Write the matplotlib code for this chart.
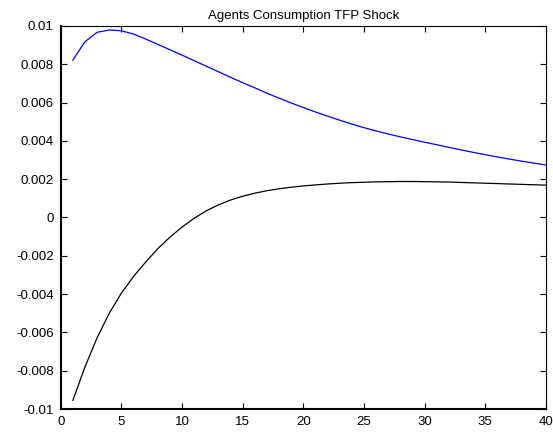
import numpy as np
import matplotlib
matplotlib.use('Agg')
from matplotlib import pyplot as plt
from matplotlib.ticker import FuncFormatter

periods = np.arange(1, 41)

# blue: response of agents' consumption (series 1)
cons_a = [0.00822, 0.00918, 0.00967, 0.00979, 0.00975, 0.00958, 0.00932, 0.00904,
          0.00876, 0.00848, 0.00819, 0.00790, 0.00761, 0.00732, 0.00704, 0.00677,
          0.00649, 0.00623, 0.00598, 0.00574, 0.00551, 0.00529, 0.00508, 0.00488,
          0.00469, 0.00452, 0.00436, 0.00421, 0.00407, 0.00393, 0.00380, 0.00366,
          0.00353, 0.00340, 0.00328, 0.00316, 0.00305, 0.00294, 0.00284, 0.00274]

# black: response of agents' consumption (series 2)
cons_b = [-0.00955, -0.00780, -0.00628, -0.00500, -0.00395, -0.00308, -0.00233, -0.00163,
          -0.00103, -0.00050, -0.00004, 0.00035, 0.00066, 0.00091, 0.00111, 0.00127,
          0.00140, 0.00150, 0.00158, 0.00165, 0.00170, 0.00175, 0.00179, 0.00182,
          0.00184, 0.00186, 0.00187, 0.00188, 0.00188, 0.00187, 0.00186, 0.00185,
          0.00183, 0.00181, 0.00179, 0.00177, 0.00175, 0.00173, 0.00171, 0.00169]

plt.rcParams['font.family'] = ['Liberation Sans', 'DejaVu Sans']

fig = plt.figure(figsize=(5.53, 4.34), dpi=100)
ax = fig.add_axes([0.1098, 0.0576, 0.8775, 0.8825])

ax.plot(periods, cons_a, color='blue', lw=0.9)
ax.plot(periods, cons_b, color='black', lw=0.9)

ax.set_xlim(0, 40)
ax.set_ylim(-0.01, 0.01)
ax.set_xticks(np.arange(0, 41, 5))
ax.set_yticks(np.linspace(-0.01, 0.01, 11))
ax.yaxis.set_major_formatter(FuncFormatter(lambda v, p: '0' if abs(v) < 1e-12 else '%g' % round(v, 4)))

ax.tick_params(direction='in', top=True, right=True, length=4, width=0.8,
               labelsize=9.5)
ax.tick_params(axis='y', pad=5)
ax.tick_params(axis='x', pad=5)
for side in ['left', 'bottom']:
    ax.spines[side].set_linewidth(1.5)
for side in ['top', 'right']:
    ax.spines[side].set_linewidth(0.8)

ax.set_title('Agents Consumption TFP Shock', fontsize=9.5, pad=5)

fig.savefig('out.png', dpi=100)
